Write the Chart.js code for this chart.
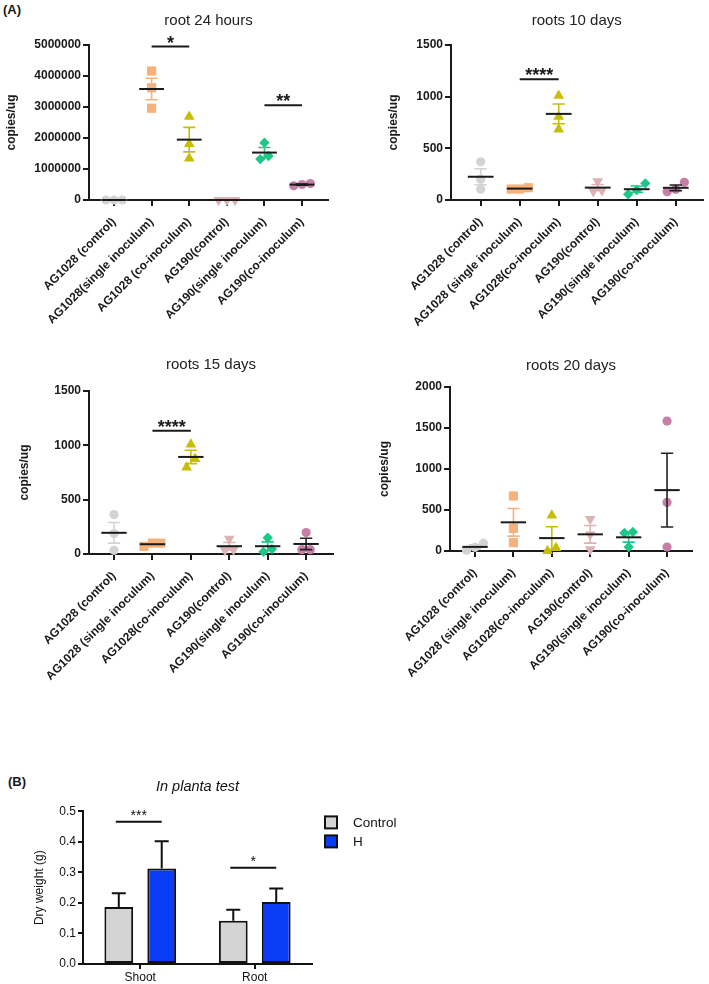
<!DOCTYPE html>
<html><head><meta charset="utf-8">
<script src="https://cdn.jsdelivr.net/npm/chart.js@4.4.1/dist/chart.umd.min.js"></script>
<style>
html,body{margin:0;padding:0;background:#fff}
body{width:709px;height:984px;position:relative;overflow:hidden;font-family:"Liberation Sans",Arial,Helvetica,sans-serif}
.box{position:absolute}
.tag{position:absolute;font-weight:bold;font-size:13px;color:#1a1a1a;line-height:15px}
</style></head><body>
<div class="tag" style="left:3px;top:2px">(A)</div>
<div class="tag" style="left:8px;top:774px">(B)</div>
<div class="box" style="left:0;top:0;width:355px;height:340px"><canvas id="p1"></canvas></div>
<div class="box" style="left:360px;top:0;width:349px;height:340px"><canvas id="p2"></canvas></div>
<div class="box" style="left:0;top:340px;width:355px;height:420px"><canvas id="p3"></canvas></div>
<div class="box" style="left:360px;top:340px;width:349px;height:420px"><canvas id="p4"></canvas></div>
<div class="box" style="left:0;top:770px;width:420px;height:214px"><canvas id="pb"></canvas></div>
<script>
// ---------------- DATA ----------------
const groups24h = ['AG1028 (control)','AG1028(single inoculum)','AG1028 (co-inoculum)','AG190(control)','AG190(single inoculum)','AG190(co-inoculum)'];
const groupsDays = ['AG1028 (control)','AG1028 (single inoculum)','AG1028(co-inoculum)','AG190(control)','AG190(single inoculum)','AG190(co-inoculum)'];

const root24h  = [[0,0,0],[4160000,3620000,2960000],[2690000,1810000,1340000],[0,0,0],[1850000,1320000,1420000],[460000,530000,500000]];
const roots10d = [[370,200,105],[106,119,106],[1010,806,684],[180,95,85],[161,55,97],[171,80,103]];
const roots15d = [[363,188,34],[70,100,100],[1008,796,876],[140,40,35],[150,20,45],[197,40,40]];
const roots20d = [[10,95,45],[671,276,102],[435,0,37],[390,200,20],[232,220,49],[1585,593,49]];

// significance: [from group, to group, bar level, label]
const sig24h  = [[2,3,4950000,'*'],[5,6,3060000,'**']];
const sig10d  = [[2,3,1168,'****']];
const sig15d  = [[2,3,1134,'****']];
const sig20d  = [];

const plantCats    = ['Shoot','Root'];
const controlMean  = [0.187,0.142];
const controlSem   = [0.045,0.036];
const hMean        = [0.313,0.203];
const hSem         = [0.089,0.044];
const plantSig     = [[0,0.466,'***'],[1,0.315,'*']];

// ---------------- STYLES ----------------
const FONT = "'Liberation Sans', Arial, Helvetica, sans-serif";
Chart.defaults.font.family = FONT;
Chart.defaults.color = '#1a1a1a';
const INK = '#1a1a1a';
const STYLES = [
  {shape:'circle',   rot:0,   r:4.6, color:'#d3d3d3', sem:'#d3d3d3'},
  {shape:'rect',     rot:0,   r:6.5, color:'#f6b27c', sem:'#f6b27c'},
  {shape:'triangle', rot:0,   r:6.2, color:'#c8be00', sem:'#c8be00'},
  {shape:'triangle', rot:180, r:6.2, color:'#dcb2b4', sem:'#dcb2b4'},
  {shape:'rectRot',  rot:0,   r:5.2, color:'#1dc787', sem:'#1dc787'},
  {shape:'circle',   rot:0,   r:4.6, color:'#c67fa6', sem:'#222222'}
];

// spread points whose values nearly coincide (GraphPad-like scatter)
function spread(vals, thr){
  const idx = vals.map((v,k)=>k).sort((a,b)=>vals[a]-vals[b]);
  const off = vals.map(()=>0);
  let start = 0;
  for(let k=1;k<=idx.length;k++){
    if(k===idx.length || vals[idx[k]]-vals[idx[k-1]]>=thr){
      const n = k-start;
      for(let j=start;j<k;j++) off[idx[j]] = (j-start-(n-1)/2);
      start = k;
    }
  }
  return off;
}

const meanSemPlugin = {
  id:'meanSem',
  afterDatasetsDraw(chart){
    const o = chart.options.plugins.meanSem; if(!o || !o.groups) return;
    const ctx = chart.ctx, x = chart.scales.x, y = chart.scales.y;
    o.groups.forEach((vals,i)=>{
      const n = vals.length;
      const m = vals.reduce((a,b)=>a+b,0)/n;
      const sd = Math.sqrt(vals.reduce((a,b)=>a+(b-m)*(b-m),0)/(n-1));
      const se = sd/Math.sqrt(n);
      const cx = x.getPixelForValue(i+1);
      const hw = x.getPixelForValue(i+1+0.33)-cx;
      const cw = x.getPixelForValue(i+1+0.16)-cx;
      const py = y.getPixelForValue(m), pt = y.getPixelForValue(m+se), pb = y.getPixelForValue(m-se);
      ctx.save();
      if(se>0){
        ctx.strokeStyle = STYLES[i].sem; ctx.lineWidth = 1.6;
        ctx.beginPath();
        ctx.moveTo(cx,pt); ctx.lineTo(cx,pb);
        ctx.moveTo(cx-cw,pt); ctx.lineTo(cx+cw,pt);
        ctx.moveTo(cx-cw,pb); ctx.lineTo(cx+cw,pb);
        ctx.stroke();
      }
      ctx.strokeStyle = INK; ctx.lineWidth = 2;
      ctx.beginPath(); ctx.moveTo(cx-hw,py); ctx.lineTo(cx+hw,py); ctx.stroke();
      ctx.restore();
    });
    (o.sig||[]).forEach(([a,b,v,t])=>{
      const x1 = x.getPixelForValue(a), x2 = x.getPixelForValue(b), py = y.getPixelForValue(v);
      ctx.save();
      ctx.strokeStyle = INK; ctx.lineWidth = 2;
      ctx.beginPath(); ctx.moveTo(x1,py); ctx.lineTo(x2,py); ctx.stroke();
      ctx.fillStyle = INK; ctx.font = 'bold 18px '+FONT; ctx.textAlign='center'; ctx.textBaseline='alphabetic';
      ctx.fillText(t,(x1+x2)/2,py+2);
      ctx.restore();
    });
  }
};

function scatterPanel(id, cats, groups, sig, title, yMax, yStep, xMin, xMax, L){
  const datasets = groups.map((vals,i)=>{
    const off = spread(vals, yMax*0.055);
    const st = STYLES[i];
    return {
      label: cats[i],
      data: vals.map((v,k)=>({x:i+1+off[k]*0.22, y:v})),
      pointStyle: st.shape, rotation: st.rot,
      pointRadius: st.r, pointHoverRadius: st.r,
      backgroundColor: st.color, borderColor: st.color, borderWidth: 0,
      clip: false
    };
  });
  new Chart(document.getElementById(id), {
    type:'scatter',
    data:{datasets},
    options:{
      responsive:true, maintainAspectRatio:false, animation:false, devicePixelRatio:1,
      layout:{padding:{left:0,top:0,right:L.padRight,bottom:0}},
      plugins:{
        legend:{display:false}, tooltip:{enabled:false},
        title:{display:true, text:title, fullSize:false, color:'#222', font:{size:15, weight:'normal'}, padding:{top:L.tTop, bottom:L.tBot}},
        meanSem:{groups, sig}
      },
      scales:{
        x:{
          type:'linear', min:xMin, max:xMax,
          afterBuildTicks(s){ s.ticks = cats.map((c,i)=>({value:i+1})); },
          afterFit(s){ s.height = L.xH; s.paddingLeft = 0; s.paddingRight = 0; },
          ticks:{callback:(v)=>cats[Math.round(v)-1], autoSkip:false, minRotation:45, maxRotation:45, padding:9, color:INK, font:{size:12, weight:'bold'}},
          grid:{drawOnChartArea:false, drawTicks:true, tickLength:6, color:INK, lineWidth:2},
          border:{color:INK, width:2}
        },
        y:{
          type:'linear', min:0, max:yMax,
          afterFit(s){ s.width = L.yW; },
          ticks:{stepSize:yStep, callback:(v)=>String(v), padding:2, color:INK, font:{size:12, weight:'bold'}},
          grid:{drawOnChartArea:false, drawTicks:true, tickLength:6, color:INK, lineWidth:2},
          border:{color:INK, width:2},
          title:{display:true, text:'copies/ug', color:INK, font:{size:12, weight:'bold'}, padding:{top:L.yTitle, bottom:0}}
        }
      }
    },
    plugins:[meanSemPlugin]
  });
}

scatterPanel('p1', groups24h, root24h, sig24h, 'root 24 hours', 5000000, 1000000, 0.335, 6.69,
  {padRight:27, tTop:12, tBot:15, xH:140, yW:89, yTitle:4.8});
scatterPanel('p2', groupsDays, roots10d, sig10d, 'roots 10 days', 1500, 500, 0.239, 6.686,
  {padRight:4, tTop:12, tBot:15, xH:140, yW:91, yTitle:26.8});
scatterPanel('p3', groupsDays, roots15d, sig15d, 'roots 15 days', 1500, 500, 0.349, 6.70,
  {padRight:22, tTop:16, tBot:17, xH:206, yW:89, yTitle:17.8});
scatterPanel('p4', groupsDays, roots20d, sig20d, 'roots 20 days', 2000, 500, 0.349, 6.65,
  {padRight:17, tTop:17, tBot:12, xH:209, yW:90, yTitle:17.8});

// ---------------- Panel B ----------------
const barErrPlugin = {
  id:'barErr',
  afterDatasetsDraw(chart){
    const o = chart.options.plugins.barErr; if(!o || !o.errs) return;
    const ctx = chart.ctx, y = chart.scales.y;
    ctx.save();
    ctx.strokeStyle = '#111'; ctx.lineWidth = 2;
    o.errs.forEach((errs,di)=>{
      chart.getDatasetMeta(di).data.forEach((bar,j)=>{
        const v = chart.data.datasets[di].data[j];
        const pTop = y.getPixelForValue(v+errs[j]);
        const pBar = y.getPixelForValue(v);
        ctx.beginPath();
        ctx.moveTo(bar.x,pBar); ctx.lineTo(bar.x,pTop);
        ctx.moveTo(bar.x-7,pTop); ctx.lineTo(bar.x+7,pTop);
        ctx.stroke();
      });
    });
    (o.sig||[]).forEach(([j,v,t])=>{
      const x1 = chart.getDatasetMeta(0).data[j].x - 3, x2 = chart.getDatasetMeta(1).data[j].x;
      const py = y.getPixelForValue(v);
      ctx.beginPath(); ctx.moveTo(x1,py); ctx.lineTo(x2,py); ctx.stroke();
      ctx.fillStyle = '#111'; ctx.font = '14px '+FONT; ctx.textAlign='center'; ctx.textBaseline='alphabetic';
      ctx.fillText(t,(x1+x2)/2,py-2);
    });
    ctx.restore();
  }
};

// legend drawn beside the plot area from the chart's own datasets
const sideLegendPlugin = {
  id:'sideLegend',
  afterDraw(chart){
    const o = chart.options.plugins.sideLegend; if(!o || !o.show) return;
    const ctx = chart.ctx, a = chart.chartArea;
    ctx.save();
    chart.data.datasets.forEach((d,i)=>{
      const bx = a.right + 13, by = a.top + 5 + i*19;
      ctx.fillStyle = d.backgroundColor; ctx.fillRect(bx,by,12,12);
      ctx.strokeStyle = '#111'; ctx.lineWidth = 2; ctx.strokeRect(bx,by,12,12);
      ctx.fillStyle = '#111'; ctx.font = '13.5px '+FONT; ctx.textAlign='left'; ctx.textBaseline='middle';
      ctx.fillText(d.label, bx+28, by+6.5);
    });
    ctx.restore();
  }
};

new Chart(document.getElementById('pb'), {
  type:'bar',
  data:{
    labels: plantCats,
    datasets:[
      {label:'Control', data:controlMean, backgroundColor:'#d4d4d4', borderColor:'#111', borderWidth:2, borderSkipped:false},
      {label:'H', data:hMean, backgroundColor:'#0a3cf5', borderColor:'#111', borderWidth:2, borderSkipped:false}
    ]
  },
  options:{
    responsive:true, maintainAspectRatio:false, animation:false, devicePixelRatio:1,
    categoryPercentage:0.75, barPercentage:0.67,
    layout:{padding:{left:0,top:0,right:108,bottom:0}},
    plugins:{
      tooltip:{enabled:false},
      title:{display:true, text:'In planta test', fullSize:false, color:'#111', font:{size:14.5, style:'italic', weight:'normal'}, padding:{top:8, bottom:16}},
      legend:{display:false},
      sideLegend:{show:true},
      barErr:{errs:[controlSem,hSem], sig:plantSig}
    },
    scales:{
      x:{
        afterFit(s){ s.height = 20; s.paddingLeft = 0; s.paddingRight = 0; },
        ticks:{padding:1, color:'#111', font:{size:12}},
        grid:{offset:false, drawOnChartArea:false, drawTicks:true, tickLength:5, color:'#111', lineWidth:2},
        border:{color:'#111', width:2}
      },
      y:{
        min:0, max:0.5,
        afterFit(s){ s.width = 83; },
        ticks:{stepSize:0.1, callback:(v)=>Number(v).toFixed(1), padding:2, color:'#111', font:{size:12}},
        grid:{drawOnChartArea:false, drawTicks:true, tickLength:5, color:'#111', lineWidth:2},
        border:{color:'#111', width:2},
        title:{display:true, text:'Dry weight (g)', color:'#111', font:{size:12}, padding:{top:32.8, bottom:0}}
      }
    }
  },
  plugins:[barErrPlugin, sideLegendPlugin]
});
</script>
</body></html>
